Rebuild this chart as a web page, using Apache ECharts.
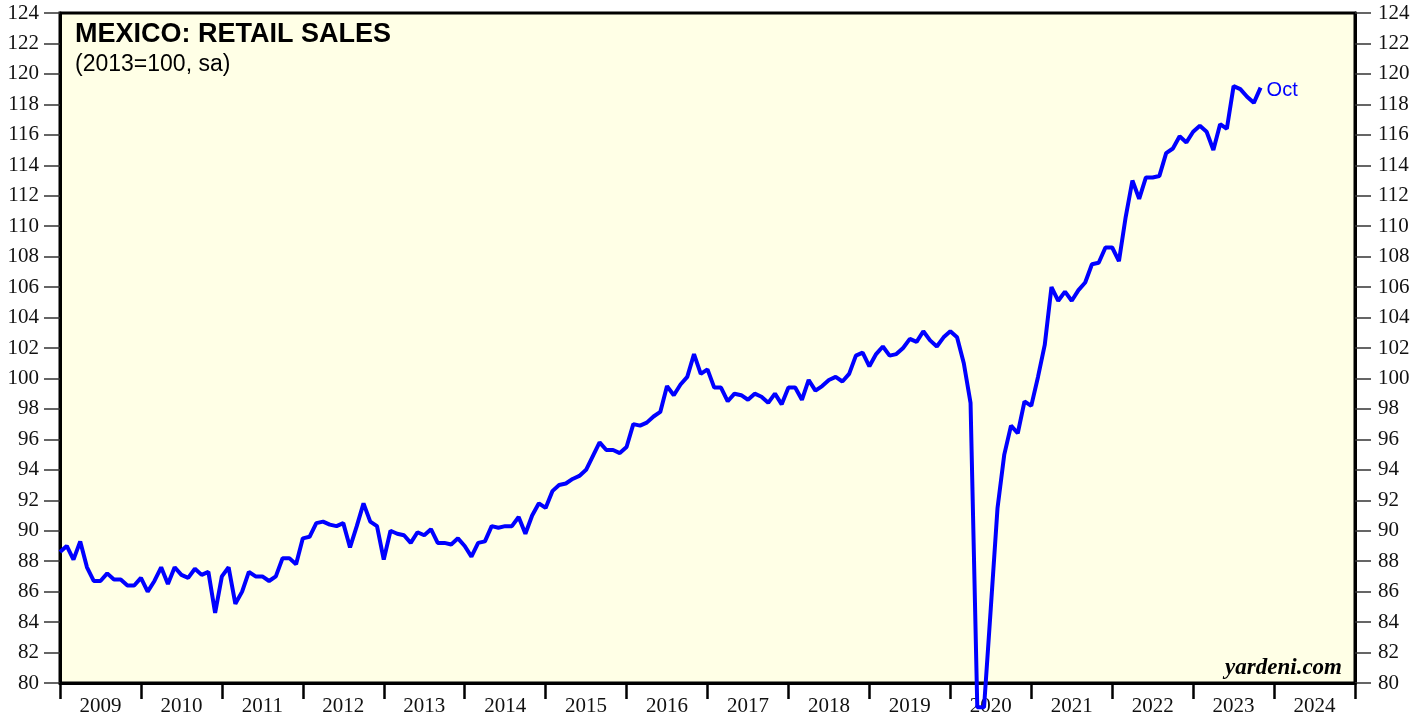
<!DOCTYPE html>
<html>
<head>
<meta charset="utf-8">
<script src="https://cdn.jsdelivr.net/npm/echarts@6/dist/echarts.min.js"></script>
<style>
html,body{margin:0;padding:0;background:#fff;}
#chart{width:1426px;height:717px;}
</style>
</head>
<body>
<div id="chart"></div>
<script>
// Year tick labels (centered between year boundaries)
var years = ['2009','2010','2011','2012','2013','2014','2015','2016','2017','2018','2019','2020','2021','2022','2023','2024'];
// Y-axis range / tick step
var yMin = 80, yMax = 124, yStep = 2;
// Monthly retail sales index (2013=100, sa), Dec 2008 .. Oct 2023
var retailSales = [
 88.6, 89.0, 88.1, 89.3, 87.6, 86.7, 86.7, 87.2, 86.8, 86.8, 86.4, 86.4,
 86.9, 86.0, 86.7, 87.6, 86.5, 87.6, 87.1, 86.9, 87.5, 87.1, 87.3, 84.6,
 87.0, 87.6, 85.2, 86.0, 87.3, 87.0, 87.0, 86.7, 87.0, 88.2, 88.2, 87.8,
 89.5, 89.6, 90.5, 90.6, 90.4, 90.3, 90.5, 88.9, 90.3, 91.8, 90.6, 90.3,
 88.1, 90.0, 89.8, 89.7, 89.2, 89.9, 89.7, 90.1, 89.2, 89.2, 89.1, 89.5,
 89.0, 88.3, 89.2, 89.3, 90.3, 90.2, 90.3, 90.3, 90.9, 89.8, 91.0, 91.8,
 91.5, 92.6, 93.0, 93.1, 93.4, 93.6, 94.0, 94.9, 95.8, 95.3, 95.3, 95.1,
 95.5, 97.0, 96.9, 97.1, 97.5, 97.8, 99.5, 98.9, 99.6, 100.1, 101.6, 100.3,
 100.6, 99.4, 99.4, 98.5, 99.0, 98.9, 98.6, 99.0, 98.8, 98.4, 99.0, 98.3,
 99.4, 99.4, 98.6, 99.9, 99.2, 99.5, 99.9, 100.1, 99.8, 100.3, 101.5, 101.7,
 100.8, 101.6, 102.1, 101.5, 101.6, 102.0, 102.6, 102.4, 103.1, 102.5, 102.1, 102.7,
 103.1, 102.7, 101.0, 98.4, 78.4, 78.4, 84.9, 91.5, 95.0, 96.9, 96.4, 98.5,
 98.2, 100.1, 102.2, 106.0, 105.1, 105.7, 105.1, 105.8, 106.3, 107.5, 107.6, 108.6,
 108.6, 107.7, 110.6, 113.0, 111.8, 113.2, 113.2, 113.3, 114.8, 115.1, 115.9, 115.5,
 116.2, 116.6, 116.2, 115.0, 116.7, 116.4, 119.2, 119.0, 118.5, 118.1, 119.1
];
var lastLabel = 'Oct';
var totalMonths = years.length * 12;

var seriesData = retailSales.map(function (v, i) { return [i, v]; });

var serif = '"Liberation Serif", "Times New Roman", serif';
var sans = '"Liberation Sans", Arial, sans-serif';

var yAxisBase = function (pos, margin) {
  return {
    type: 'value', position: pos, min: yMin, max: yMax, interval: yStep,
    axisLine: { show: true, lineStyle: { color: '#000', width: 3 } },
    axisTick: { show: true, inside: false, length: 16, lineStyle: { color: '#333', width: 1.5 } },
    axisLabel: { show: true, margin: margin, color: '#111', fontFamily: serif, fontSize: 21 },
    splitLine: { show: false }
  };
};

var chart = echarts.init(document.getElementById('chart'), null, { renderer: 'canvas' });
chart.setOption({
  animation: false,
  backgroundColor: '#ffffff',
  grid: { left: 60, right: 71, top: 13, bottom: 31, show: true, backgroundColor: '#FFFFE6', borderColor: '#000', borderWidth: 3 },
  xAxis: [
    {
      type: 'category', data: years, boundaryGap: true, position: 'bottom',
      axisLine: { show: true, lineStyle: { color: '#000', width: 3 } },
      axisTick: { show: true, interval: 0, alignWithLabel: false, length: 16, lineStyle: { color: '#000', width: 2.5 } },
      axisLabel: { show: true, interval: 0, margin: 13, color: '#111', fontFamily: serif, fontSize: 21 },
      splitLine: { show: false }
    },
    { type: 'value', min: 0, max: totalMonths, show: false }
  ],
  yAxis: [ yAxisBase('left', 21), yAxisBase('right', 23) ],
  series: [{
    type: 'line', xAxisIndex: 1, yAxisIndex: 0, data: seriesData,
    showSymbol: false, clip: false, smooth: false,
    lineStyle: { color: '#0000FF', width: 4 },
    endLabel: { show: true, formatter: lastLabel, color: '#0000FF', fontFamily: sans, fontSize: 20, distance: 6, offset: [0, 3] },
    z: 5
  }],
  graphic: [
    { type: 'text', left: 75, top: 21, style: { text: 'MEXICO: RETAIL SALES', font: 'bold 27px ' + sans, fill: '#000' } },
    { type: 'text', left: 75, top: 53, style: { text: '(2013=100, sa)', font: '23px ' + sans, fill: '#000' } },
    { type: 'text', right: 84, top: 657, style: { text: 'yardeni.com', font: 'italic bold 23px ' + serif, fill: '#000' } }
  ]
});
</script>
</body>
</html>
